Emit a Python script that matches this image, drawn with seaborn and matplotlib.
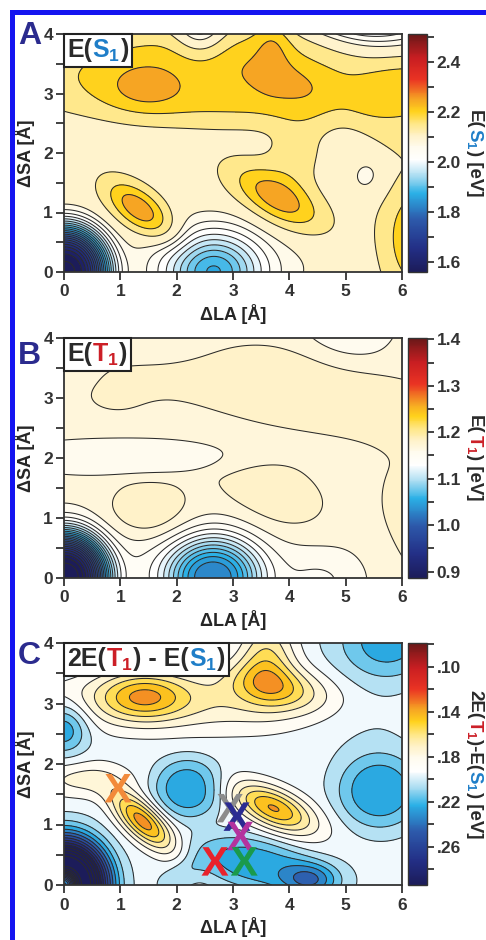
import numpy as np
import pandas as pd
import matplotlib
matplotlib.use("Agg")
import matplotlib.pyplot as plt
import seaborn as sns
from matplotlib.colors import LinearSegmentedColormap, Normalize
from matplotlib.cm import ScalarMappable
from matplotlib.offsetbox import TextArea, HPacker, AnchoredOffsetbox
from matplotlib.patches import Rectangle
from matplotlib.ticker import MultipleLocator, FixedLocator

# ---------------- data ----------------
LA_MAX, SA_MAX = 6.0, 4.0

# Each surface = base level + smooth features:
# centre (dLA, dSA) [A], amplitude [eV], widths [A], tilt [deg], profile exponent
S1_BASE = 2.10
S1_X0  = [0.00, 2.65, 2.80, 1.33, 3.78, 3.20, 6.20, 1.44, 3.80, 3.70, 2.42, 5.40, 5.40, 6.30, 4.10]
S1_Y0  = [0.00, 0.00, 0.10, 1.06, 1.25, 3.30, 2.75, 3.10, 3.25, 3.85, 4.05, 4.45, 1.60, 0.55, 2.00]
S1_AMP = [-0.55, -0.20, -0.03, 0.168, 0.15, 0.10, 0.05, 0.065, 0.05, 0.06, -0.11, -0.16, -0.035, 0.13, 0.045]
S1_SX  = [0.62, 0.60, 1.60, 0.46, 0.62, 3.30, 0.90, 0.47, 0.55, 0.22, 0.32, 0.85, 0.27, 0.45, 0.35]
S1_SY  = [0.62, 0.48, 0.50, 0.22, 0.26, 0.70, 0.65, 0.28, 0.22, 0.45, 0.30, 0.60, 0.27, 0.70, 0.60]
S1_ROT = [0, 0, 0, -35, -28, 0, 0, 0, -12, 0, 0, 0, 0, 0, -15]
S1_POW = [3, 2, 2, 2, 2, 4, 4, 2, 2, 2, 2, 2, 2, 2, 2]

T1_BASE = 1.169
T1_X0  = [0.00, 2.65, 2.00, 1.10, 3.70, 1.60, 5.10, 1.50, 3.75, 6.30, 4.60, 0.95]
T1_Y0  = [0.00, 0.00, 0.20, 2.02, 3.25, 4.30, 4.30, 1.08, 1.30, 0.90, -0.10, 3.05]
T1_AMP = [-0.29, -0.125, -0.02, -0.015, 0.013, -0.02, -0.02, 0.024, 0.018, 0.014, -0.012, 0.009]
T1_SX  = [0.60, 0.62, 2.40, 2.00, 3.30, 1.00, 0.55, 0.55, 0.80, 0.60, 0.45, 0.55]
T1_SY  = [0.60, 0.50, 0.65, 0.28, 0.60, 0.50, 0.45, 0.36, 0.45, 1.00, 0.35, 0.28]
T1_ROT = [0, 0, 0, 0, -12, 0, 0, 0, -25, 0, 0, 0]
T1_POW = [3, 2.5, 2, 4, 4, 2, 2, 2, 2, 2, 2, 2]

D_BASE = 0.197
D_X0  = [0.00, 0.00, 2.60, 1.40, 3.75, 3.60, 1.40, 3.72, 2.20, 5.60, 0.00, 5.75, 4.40, 3.40, 0.30, 0.10, 5.30, 2.10]
D_Y0  = [0.00, 0.00, 3.05, 3.12, 3.30, 3.82, 1.05, 1.27, 1.60, 1.55, 2.60, 4.05, 0.08, 0.35, 1.75, 3.90, 3.00, 0.20]
D_AMP = [0.17, -0.14, -0.025, -0.04, -0.03, -0.034, -0.062, -0.058, 0.03, 0.03, 0.035, 0.03, 0.035, 0.028, -0.02, 0.012, 0.012, 0.012]
D_SX  = [0.62, 0.17, 2.40, 0.55, 0.60, 0.36, 0.48, 0.55, 0.50, 0.60, 0.30, 0.60, 0.35, 0.90, 0.60, 0.40, 0.80, 0.30]
D_SY  = [0.62, 0.17, 0.38, 0.28, 0.25, 0.45, 0.20, 0.23, 0.40, 0.50, 0.30, 0.45, 0.20, 0.35, 0.22, 0.30, 0.50, 0.15]
D_ROT = [0, 0, 0, 0, -10, 0, -40, -22, 0, 0, 0, 0, 0, -10, 0, 0, 0, 30]
D_POW = [3, 2, 2, 2, 2, 2, 2, 2, 3, 3, 2, 2, 2, 3, 2, 2, 2, 2]

# marked geometries on the 2E(T1)-E(S1) map
MARK_NAME = ["orange", "gray", "navy", "magenta", "red", "green"]
MARK_LA   = [0.96, 2.95, 3.07, 3.13, 2.68, 3.20]
MARK_SA   = [1.60, 1.27, 1.13, 0.81, 0.39, 0.39]
MARK_COL  = ["#f28a3a", "#8c8c8c", "#2b2b92", "#b4329e", "#e8222c", "#1a9a4c"]

# colour bars
S1_TICKS, S1_MINOR = [1.6, 1.8, 2.0, 2.2, 2.4], [1.7, 1.9, 2.1, 2.3, 2.5]
T1_TICKS, T1_MINOR = [0.9, 1.0, 1.1, 1.2, 1.3, 1.4], [0.95, 1.05, 1.15, 1.25, 1.35]
D_TICKS, D_MINOR = [0.10, 0.14, 0.18, 0.22, 0.26], [0.08, 0.12, 0.16, 0.20, 0.24, 0.28]

# ---------------- style ----------------
sns.set_theme(style="ticks")
plt.rcParams.update({
    "font.family": ["Liberation Sans", "DejaVu Sans"],
    "font.weight": "bold",
    "mathtext.fontset": "custom",
    "mathtext.rm": "Liberation Sans:bold",
    "mathtext.bf": "Liberation Sans:bold",
    "mathtext.it": "Liberation Sans:bold",
    "axes.edgecolor": "#333333",
    "axes.linewidth": 1.3,
    "xtick.color": "#333333",
    "ytick.color": "#333333",
    "text.color": "#2a2a2a",
})
INK = "#2a2a2a"
BLUE_TXT = "#1f7ec8"
RED_TXT = "#cc1f27"
LETTER = "#2b2b8e"

cmap = LinearSegmentedColormap.from_list("spectral_map", [
    (0.00, "#1c1c5a"), (0.10, "#232f86"), (0.22, "#2d5aab"), (0.33, "#2bb0e6"),
    (0.40, "#a6dbf1"), (0.47, "#ffffff"), (0.525, "#fffbee"), (0.55, "#fff6da"),
    (0.57, "#fff3cc"), (0.585, "#ffefb8"), (0.62, "#ffe88c"), (0.675, "#ffd21c"),
    (0.725, "#f6a623"), (0.81, "#ea3323"), (0.90, "#c81e22"), (1.00, "#6a1818")])

LA = np.linspace(0, LA_MAX, 361)
SA = np.linspace(0, SA_MAX, 241)
GX, GY = np.meshgrid(LA, SA)


def surface(base, x0, y0, amp, sx, sy, rot, pw):
    z = np.full_like(GX, base)
    for a, b, h, wx, wy, r, p in zip(x0, y0, amp, sx, sy, rot, pw):
        t = np.deg2rad(r)
        dx, dy = GX - a, GY - b
        u = dx * np.cos(t) + dy * np.sin(t)
        v = -dx * np.sin(t) + dy * np.cos(t)
        r2 = (u / wx) ** 2 + (v / wy) ** 2
        z += h * np.exp(-0.5 * r2 ** (p / 2))
    return z


E_S1 = surface(S1_BASE, S1_X0, S1_Y0, S1_AMP, S1_SX, S1_SY, S1_ROT, S1_POW)
E_T1 = surface(T1_BASE, T1_X0, T1_Y0, T1_AMP, T1_SX, T1_SY, T1_ROT, T1_POW)
E_D = surface(D_BASE, D_X0, D_Y0, D_AMP, D_SX, D_SY, D_ROT, D_POW)

W, H = 486, 940
fig = plt.figure(figsize=(W / 100, H / 100), dpi=100)


def rect(left, top, right, bottom):
    return [left / W, 1 - bottom / H, (right - left) / W, (bottom - top) / H]


panels = [
    dict(z=E_S1, ax=(64, 34, 402, 272), cb=(408, 34, 427, 272), norm=Normalize(1.56, 2.51), cm=cmap,
         levels=np.r_[np.arange(1.30, 2.076, 0.025), np.arange(2.125, 2.70, 0.05)],
         ticks=S1_TICKS, minor=S1_MINOR, fmt="{:.1f}", invert=False, letter="A", ly=44,
         title=[("E(", INK), (r"$\mathbf{S}_{\mathbf{1}}$", BLUE_TXT), (")", INK)],
         clabel=[("E(", INK), (r"$\mathbf{S}_{\mathbf{1}}$", BLUE_TXT), (") [eV]", INK)]),
    dict(z=E_T1, ax=(64, 338, 402, 578), cb=(408, 338, 427, 578), norm=Normalize(0.886, 1.403), cm=cmap,
         levels=np.arange(0.80, 1.45, 0.0125),
         ticks=T1_TICKS, minor=T1_MINOR, fmt="{:.1f}", invert=False, letter="B", ly=364,
         title=[("E(", INK), (r"$\mathbf{T}_{\mathbf{1}}$", RED_TXT), (")", INK)],
         clabel=[("E(", INK), (r"$\mathbf{T}_{\mathbf{1}}$", RED_TXT), (") [eV]", INK)]),
    dict(z=E_D, ax=(64, 643, 402, 885), cb=(408, 643, 427, 885), norm=Normalize(0.079, 0.294), cm=cmap.reversed(),
         levels=np.arange(0.05, 0.45, 0.01),
         ticks=D_TICKS, minor=D_MINOR, fmt="{:.2f}", invert=True, letter="C", ly=664,
         title=[("2E(", INK), (r"$\mathbf{T}_{\mathbf{1}}$", RED_TXT), (") - E(", INK),
                (r"$\mathbf{S}_{\mathbf{1}}$", BLUE_TXT), (")", INK)],
         clabel=[("2E(", INK), (r"$\mathbf{T}_{\mathbf{1}}$", RED_TXT), (")-E(", INK),
                 (r"$\mathbf{S}_{\mathbf{1}}$", BLUE_TXT), (") [eV]", INK)]),
]

renderer = fig.canvas.get_renderer()


def vertical_label(x_px, y_mid_px, parts, fs):
    # coloured pieces laid out one after another, reading top to bottom
    texts, lengths = [], []
    for s, c in parts:
        t = fig.text(0, 0, s, color=c, fontsize=fs, fontweight="bold", rotation=270,
                     rotation_mode="anchor", ha="left", va="baseline")
        lengths.append(t.get_window_extent(renderer).height)
        texts.append(t)
    y = (H - y_mid_px) + sum(lengths) / 2
    for t, L in zip(texts, lengths):
        t.set_position((x_px / W, y / H))
        y -= L


axes = []
for p in panels:
    ax = fig.add_axes(rect(*p["ax"]))
    axes.append(ax)
    z = p["z"]
    ax.contourf(LA, SA, z, levels=p["levels"], cmap=p["cm"], norm=p["norm"], extend="both")
    ax.contour(LA, SA, z, levels=p["levels"], colors="#2b2b2b", linewidths=0.75)
    ax.set_xlim(0, LA_MAX)
    ax.set_ylim(0, SA_MAX)
    ax.xaxis.set_major_locator(MultipleLocator(1))
    ax.yaxis.set_major_locator(MultipleLocator(1))
    ax.yaxis.set_minor_locator(MultipleLocator(0.5))
    ax.tick_params(which="both", direction="out", length=6, width=1.3, labelsize=12.5, pad=2)
    ax.tick_params(axis="x", pad=3)
    for lab in ax.get_xticklabels() + ax.get_yticklabels():
        lab.set_fontweight("bold")
    for sp in ax.spines.values():
        sp.set_zorder(5)

    # boxed panel title
    kids = [TextArea(s, textprops=dict(color=c, fontsize=18, fontweight="bold")) for s, c in p["title"]]
    box = AnchoredOffsetbox(loc="upper left", child=HPacker(children=kids, align="baseline", pad=0, sep=0),
                            pad=0.22, borderpad=0, frameon=True, bbox_to_anchor=(0, 1),
                            bbox_transform=ax.transAxes)
    box.patch.set_boxstyle("square,pad=0")
    box.patch.set_edgecolor("#222222")
    box.patch.set_linewidth(1.5)
    box.set_zorder(6)
    ax.add_artist(box)

    # colour bar
    cax = fig.add_axes(rect(*p["cb"]))
    cb = fig.colorbar(ScalarMappable(norm=p["norm"], cmap=p["cm"]), cax=cax)
    cb.outline.set_edgecolor("#333333")
    cb.outline.set_linewidth(1.0)
    cax.yaxis.set_major_locator(FixedLocator(p["ticks"]))
    cax.yaxis.set_minor_locator(FixedLocator(p["minor"]))
    if p["invert"]:
        cax.invert_yaxis()
        cax.set_yticklabels([p["fmt"].format(v).lstrip("0") for v in p["ticks"]])
    else:
        cax.set_yticklabels([p["fmt"].format(v) for v in p["ticks"]])
    cax.tick_params(which="both", direction="out", length=5, width=1.3, labelsize=12.5, pad=2)
    for lab in cax.get_yticklabels():
        lab.set_fontweight("bold")
    vertical_label(470, (p["cb"][1] + p["cb"][3]) / 2, p["clabel"], 13.5)

    fig.text(18 / W, 1 - p["ly"] / H, p["letter"], fontsize=23, fontweight="bold", color=LETTER,
             ha="left", va="baseline")

# geometry markers on panel C
marks = pd.DataFrame({"name": MARK_NAME, "LA": MARK_LA, "SA": MARK_SA})
sns.scatterplot(data=marks, x="LA", y="SA", hue="name", palette=dict(zip(MARK_NAME, MARK_COL)),
                marker=r"$\mathbf{X}$", s=420, linewidth=0, legend=False, ax=axes[2], zorder=7)

for ax in axes:
    ax.set_xlabel("\u0394LA [\u00c5]", fontsize=13, fontweight="bold", labelpad=3)
    ax.set_ylabel("\u0394SA [\u00c5]", fontsize=13, fontweight="bold", labelpad=6)

# blue frame
fig.patches.append(Rectangle((12 / W, -0.1), 1.2, 1.1 - 12 / H, transform=fig.transFigure,
                             fill=False, edgecolor="#1414f0", linewidth=3.6, clip_on=False))

fig.savefig("out.png", dpi=100)
